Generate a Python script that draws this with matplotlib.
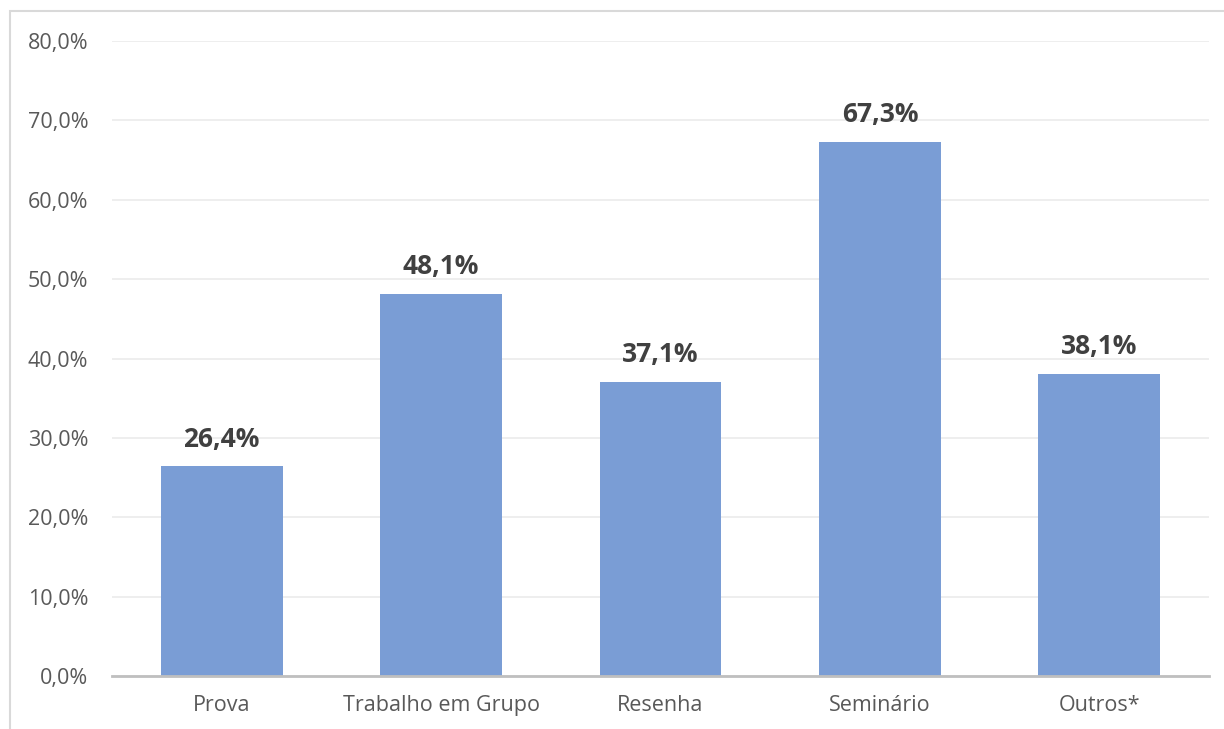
import matplotlib.pyplot as plt
from matplotlib.patches import Rectangle
from matplotlib.ticker import FuncFormatter

categories = ["Prova", "Trabalho em Grupo", "Resenha", "Seminário", "Outros*"]
values = [26.4, 48.1, 37.1, 67.3, 38.1]
yticks = [0, 10, 20, 30, 40, 50, 60, 70, 80]

plt.rcParams['font.family'] = ['Open Sans', 'DejaVu Sans']

fig = plt.figure(figsize=(12.24, 7.29), dpi=100)
ax = fig.add_axes([112 / 1224, 53 / 729, 1097 / 1224, 635 / 729])

# chart border like an Excel chart frame
fig.patches.append(Rectangle((10 / 1224, -0.05), 1.2, (729 - 11) / 729 + 0.05,
                             transform=fig.transFigure, fill=False,
                             edgecolor='#D9D9D9', linewidth=1.5))

x = range(len(categories))
bars = ax.bar(x, values, width=0.556, color='#7A9DD5', zorder=2)

for b, v in zip(bars, values):
    ax.annotate(f"{v:.1f}%".replace('.', ','), (b.get_x() + b.get_width() / 2, v),
                xytext=(0, 10), textcoords='offset points', ha='center', va='bottom',
                fontsize=19, fontweight='bold', color='#404040')

ax.set_xlim(-0.5, len(categories) - 0.5)
ax.set_ylim(0, 80)
ax.set_yticks(yticks)
ax.yaxis.set_major_formatter(FuncFormatter(lambda v, p: f"{v:.1f}%".replace('.', ',')))
ax.set_xticks(list(x))
ax.set_xticklabels(categories)
ax.tick_params(axis='both', length=0, labelsize=15.5, labelcolor='#595959')
ax.tick_params(axis='x', pad=14)
ax.tick_params(axis='y', pad=17)
ax.grid(axis='y', color='#EBEBEB', linewidth=1.2, zorder=0)
for s in ['top', 'right', 'left']:
    ax.spines[s].set_visible(False)
ax.spines['bottom'].set_color('#BFBFBF')
ax.spines['bottom'].set_linewidth(2)
ax.spines['bottom'].set_zorder(3)

plt.savefig('out.png', dpi=100)
